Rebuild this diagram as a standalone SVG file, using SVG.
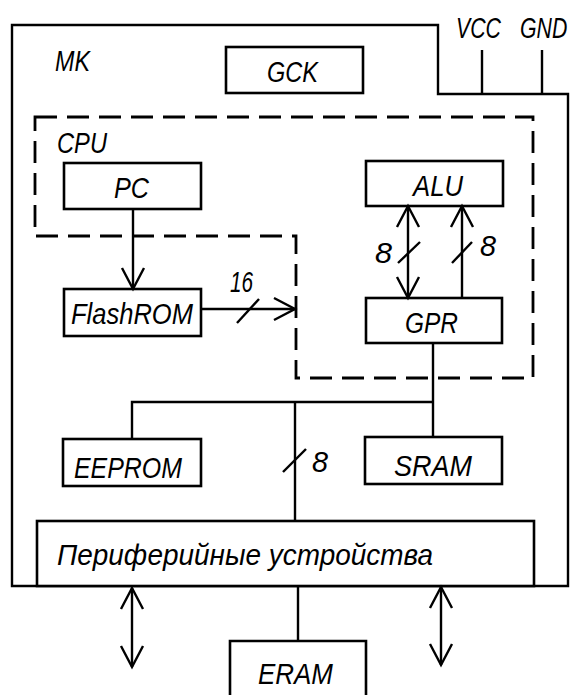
<svg xmlns="http://www.w3.org/2000/svg" width="579" height="695" viewBox="0 0 579 695">
<style>
  .box { fill: #fff; stroke: #000; stroke-width: 2.6; }
  .ln { fill: none; stroke: #000; stroke-width: 2.4; }
  .dash { fill: none; stroke: #000; stroke-width: 2.8; stroke-dasharray: 22 10; }
  .t { font-family: "Liberation Sans", Arial, sans-serif; font-style: italic; font-size: 30px; fill: #000; }
</style>
<defs>
  <marker id="arr" markerUnits="userSpaceOnUse" markerWidth="40" markerHeight="40" viewBox="-30 -20 40 40" refX="0" refY="0" orient="auto-start-reverse" overflow="visible">
    <path d="M-21,-11 L0,0 L-21,11" fill="none" stroke="#000" stroke-width="2.4" stroke-linejoin="miter"/>
  </marker>
</defs>
<rect width="579" height="695" fill="#fff"/>

<g id="mk">
  <path class="ln" d="M12,25 H438 V94 H568 V586 H12 Z" stroke-width="2.6"/>
  <text class="t" x="55" y="71" textLength="35" lengthAdjust="spacingAndGlyphs">MK</text>
</g>
<g id="power">
  <line class="ln" x1="482" y1="50" x2="482" y2="94"/>
  <line class="ln" x1="542" y1="50" x2="542" y2="94"/>
  <text class="t" x="456" y="38" textLength="45" lengthAdjust="spacingAndGlyphs">VCC</text>
  <text class="t" transform="translate(520,38) scale(0.71,1)" x="0" y="0">GND</text>
</g>
<g id="cpu">
  <path class="dash" d="M35,117 H533 V378 H296 V236 H35 Z"/>
  <text class="t" x="57" y="153" textLength="50" lengthAdjust="spacingAndGlyphs">CPU</text>
</g>
<g id="gck">
  <rect class="box" x="226" y="47" width="137" height="46"/>
  <text class="t" x="267" y="82" textLength="51" lengthAdjust="spacingAndGlyphs">GCK</text>
</g>
<g id="pc">
  <rect class="box" x="64" y="163" width="137" height="46"/>
  <text class="t" x="114" y="198" textLength="35" lengthAdjust="spacingAndGlyphs">PC</text>
</g>
<g id="alu">
  <rect class="box" x="366" y="161" width="137" height="45"/>
  <text class="t" x="413" y="196" textLength="50" lengthAdjust="spacingAndGlyphs">ALU</text>
</g>
<g id="flashrom">
  <rect class="box" x="64" y="289" width="137" height="47"/>
  <text class="t" x="71" y="324" textLength="122" lengthAdjust="spacingAndGlyphs">FlashROM</text>
</g>
<g id="gpr">
  <rect class="box" x="366" y="298" width="136" height="45"/>
  <text class="t" x="405" y="333" textLength="53" lengthAdjust="spacingAndGlyphs">GPR</text>
</g>
<g id="eeprom">
  <rect class="box" x="63" y="439" width="138" height="47"/>
  <text class="t" x="74" y="478" textLength="108" lengthAdjust="spacingAndGlyphs">EEPROM</text>
</g>
<g id="sram">
  <rect class="box" x="365" y="437" width="137" height="47"/>
  <text class="t" x="394" y="476" textLength="78" lengthAdjust="spacingAndGlyphs">SRAM</text>
</g>
<g id="periph">
  <rect class="box" x="37" y="521" width="497" height="65"/>
  <text class="t" x="57" y="565" textLength="376" lengthAdjust="spacingAndGlyphs">Периферийные устройства</text>
</g>
<g id="eram">
  <path class="box" d="M230,697 V641 H366 V697"/>
  <text class="t" x="258" y="684" textLength="75" lengthAdjust="spacingAndGlyphs">ERAM</text>
</g>

<g id="connectors">
  <line class="ln" x1="133" y1="209" x2="133" y2="289" marker-end="url(#arr)"/>
  <line class="ln" x1="201" y1="309" x2="295" y2="309" marker-end="url(#arr)"/>
  <line class="ln" x1="237" y1="323" x2="259" y2="299"/>
  <text class="t" x="230" y="292" textLength="23" lengthAdjust="spacingAndGlyphs">16</text>

  <line class="ln" x1="408" y1="206" x2="408" y2="298" marker-start="url(#arr)" marker-end="url(#arr)"/>
  <line class="ln" x1="398" y1="263" x2="420" y2="242"/>
  <text class="t" x="375" y="263" textLength="17" lengthAdjust="spacingAndGlyphs">8</text>

  <line class="ln" x1="462" y1="298" x2="462" y2="206" marker-end="url(#arr)"/>
  <line class="ln" x1="452" y1="263" x2="472" y2="242"/>
  <text class="t" x="480" y="256" textLength="16" lengthAdjust="spacingAndGlyphs">8</text>

  <line class="ln" x1="433" y1="343" x2="433" y2="437"/>
  <path class="ln" d="M132,439 V402 H433"/>
  <line class="ln" x1="295" y1="402" x2="295" y2="521"/>
  <line class="ln" x1="283" y1="472" x2="306" y2="449"/>
  <text class="t" x="312" y="472" textLength="16" lengthAdjust="spacingAndGlyphs">8</text>

  <line class="ln" x1="298" y1="586" x2="298" y2="641"/>
  <line class="ln" x1="132" y1="588" x2="132" y2="667" marker-start="url(#arr)" marker-end="url(#arr)"/>
  <line class="ln" x1="441" y1="587" x2="441" y2="665" marker-start="url(#arr)" marker-end="url(#arr)"/>
</g>
</svg>
